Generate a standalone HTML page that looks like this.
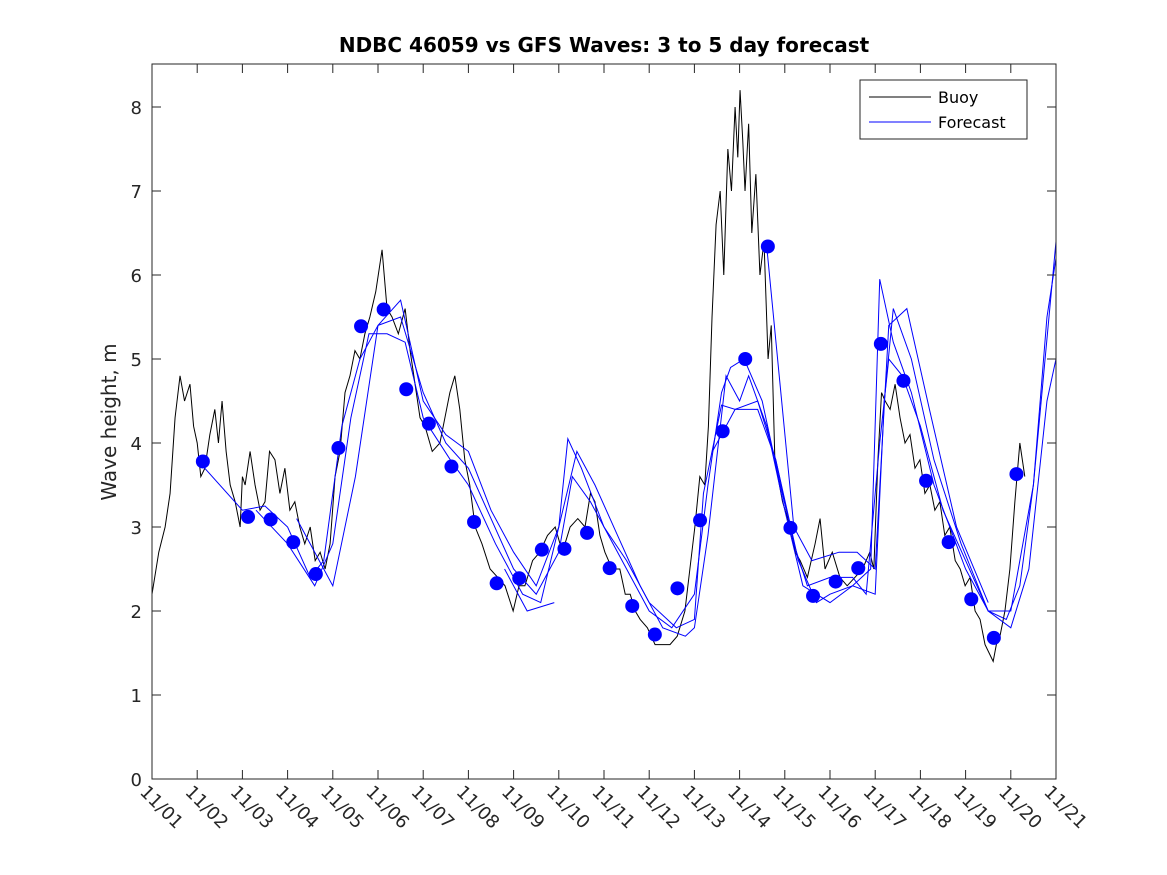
<!DOCTYPE html>
<html><head><meta charset="utf-8"><style>
body{margin:0;background:#fff}
svg{display:block;font-family:"DejaVu Sans","Liberation Sans",sans-serif}
</style></head><body>
<svg id="chart" width="1167" height="875" viewBox="0 0 1167 875" xmlns="http://www.w3.org/2000/svg">
<rect width="1167" height="875" fill="#fff"/>
<text x="604" y="52" text-anchor="middle" font-size="20" font-weight="bold" fill="#000">NDBC 46059 vs GFS Waves: 3 to 5 day forecast</text>
<text transform="translate(116,422) rotate(-90)" text-anchor="middle" font-size="20" fill="#262626">Wave height, m</text>
<g id="plot"></g>
<rect x="152" y="64" width="904" height="715" fill="none" stroke="#262626" stroke-width="1"/>
<g id="ticks"></g>
<g>
<rect x="860" y="80" width="167" height="59" fill="#fff" stroke="#262626"/>
<line x1="869" y1="97" x2="931" y2="97" stroke="#000"/>
<text x="938" y="103" font-size="16" fill="#000">Buoy</text>
<line x1="869" y1="122" x2="931" y2="122" stroke="#00f"/>
<text x="938" y="128" font-size="16" fill="#000">Forecast</text>
</g>
</svg>
<script>
const xTickLabels=["11/01","11/02","11/03","11/04","11/05","11/06","11/07","11/08","11/09","11/10","11/11","11/12","11/13","11/14","11/15","11/16","11/17","11/18","11/19","11/20","11/21"];
const yTicks=[0,1,2,3,4,5,6,7,8];
const buoyT=[0,0.15,0.29,0.4,0.51,0.62,0.72,0.84,0.92,1.0,1.08,1.17,1.28,1.39,1.47,1.55,1.64,1.73,1.84,1.95,2.0,2.06,2.17,2.28,2.39,2.5,2.6,2.72,2.83,2.94,3.05,3.16,3.27,3.38,3.5,3.61,3.72,3.83,3.94,4.05,4.16,4.27,4.38,4.49,4.6,4.71,4.82,4.95,5.09,5.2,5.31,5.45,5.6,5.71,5.82,5.93,6.04,6.2,6.37,6.48,6.59,6.7,6.81,6.92,7.03,7.15,7.3,7.48,7.65,7.81,7.99,8.12,8.25,8.42,8.58,8.75,8.92,9.08,9.25,9.42,9.58,9.7,9.8,9.91,10.02,10.18,10.35,10.47,10.58,10.69,10.8,10.96,11.13,11.3,11.46,11.62,11.79,11.9,12.01,12.12,12.23,12.31,12.39,12.48,12.57,12.65,12.74,12.82,12.9,12.96,13.01,13.07,13.12,13.2,13.27,13.36,13.45,13.54,13.63,13.7,13.78,13.95,14.12,14.23,14.34,14.5,14.67,14.78,14.89,15.05,15.22,15.38,15.55,15.72,15.88,15.97,16.06,16.14,16.22,16.33,16.44,16.55,16.66,16.77,16.88,16.99,17.1,17.21,17.32,17.43,17.54,17.65,17.77,17.88,17.99,18.1,18.21,18.32,18.43,18.52,18.61,18.68,18.76,18.87,18.98,19.09,19.2,19.31];
const buoyV=[2.2,2.7,3.0,3.4,4.3,4.8,4.5,4.7,4.2,4.0,3.6,3.7,4.1,4.4,4.0,4.5,3.9,3.5,3.3,3.0,3.6,3.5,3.9,3.5,3.2,3.3,3.9,3.8,3.4,3.7,3.2,3.3,3.0,2.8,3.0,2.6,2.7,2.5,2.8,3.6,3.9,4.6,4.8,5.1,5.0,5.3,5.5,5.8,6.3,5.6,5.5,5.3,5.6,5.1,4.7,4.3,4.2,3.9,4.0,4.3,4.6,4.8,4.4,3.8,3.5,3.0,2.8,2.5,2.4,2.3,2.0,2.3,2.3,2.6,2.7,2.9,3.0,2.7,3.0,3.1,3.0,3.4,3.3,2.9,2.7,2.5,2.5,2.2,2.2,2.0,1.9,1.8,1.6,1.6,1.6,1.7,2.0,2.5,3.0,3.6,3.5,4.2,5.5,6.6,7.0,6.0,7.5,7.0,8.0,7.4,8.2,7.6,7.0,7.8,6.5,7.2,6.0,6.4,5.0,5.4,3.8,3.3,3.0,2.7,2.6,2.4,2.8,3.1,2.5,2.7,2.4,2.3,2.4,2.5,2.7,2.5,3.8,4.6,4.5,4.4,4.7,4.3,4.0,4.1,3.7,3.8,3.4,3.5,3.2,3.3,2.9,3.0,2.6,2.5,2.3,2.4,2.0,1.9,1.6,1.5,1.4,1.6,1.7,2.0,2.5,3.3,4.0,3.6];
const dotT=[1.125,2.125,2.625,3.125,3.625,4.125,4.625,5.125,5.625,6.125,6.625,7.125,7.625,8.125,8.625,9.125,9.625,10.125,10.625,11.125,11.625,12.125,12.625,13.125,13.625,14.125,14.625,15.125,15.625,16.125,16.625,17.125,17.625,18.125,18.625,19.125];
const dotV=[3.78,3.12,3.09,2.82,2.44,3.94,5.39,5.59,4.64,4.23,3.72,3.06,2.33,2.39,2.73,2.74,2.93,2.51,2.06,1.72,2.27,3.08,4.14,5.0,6.34,2.99,2.18,2.35,2.51,5.18,4.74,3.55,2.82,2.14,1.68,3.63];
const fc1=[[1.0,3.8],[2,3.2],[2.5,3.25],[3,3.0],[3.5,2.4],[3.8,2.6],[4.2,4.2],[4.6,5.0],[5,5.4],[5.5,5.5],[6,4.6],[6.5,4.0],[7,3.7],[7.5,3.1],[8,2.5],[8.5,2.2],[9,2.7],[9.3,3.6],[9.7,3.3],[10,3.0],[10.5,2.5],[11,2.0],[11.5,1.8],[12,2.2],[12.3,3.5],[12.6,4.6],[12.8,4.9],[13.1,5.0],[13.5,4.5],[13.9,3.5],[14.3,2.6],[14.7,2.1],[15,2.2],[15.5,2.3],[16,2.2],[16.2,4.5],[16.4,5.6],[16.8,5.0],[17.3,3.8],[17.9,2.8],[18.5,2.0],[19,1.8],[19.4,2.5],[19.8,4.5],[20,5.0]];
const fc2=[[2.3,3.2],[3,2.8],[3.6,2.3],[4.0,2.8],[4.4,4.3],[4.8,5.3],[5.2,5.3],[5.6,5.2],[6,4.3],[6.6,3.8],[7,3.5],[7.6,2.8],[8.2,2.2],[8.6,2.1],[9,3.0],[9.2,4.05],[9.5,3.7],[10,3.0],[10.5,2.6],[11,2.1],[11.6,1.8],[12,1.9],[12.2,3.4],[12.6,4.45],[12.9,4.4],[13.4,4.5],[13.8,3.8],[14.2,2.8],[14.5,2.3],[15,2.4],[15.5,2.4],[15.8,2.2],[16.1,4.0],[16.3,5.0],[16.6,4.8],[17,4.2],[17.5,3.2],[18,2.6],[18.5,2.0],[18.9,1.9],[19.2,2.3],[19.5,3.5],[19.8,5.5],[20,6.2]];
const fc3=[[3.2,3.1],[4,2.3],[4.5,3.6],[5,5.4],[5.5,5.7],[6,4.5],[6.5,4.1],[7,3.9],[7.5,3.2],[8,2.7],[8.5,2.3],[9,3.0],[9.4,3.9],[9.8,3.5],[10.3,2.9],[10.8,2.3],[11.3,1.8],[11.8,1.7],[12,1.8],[12.3,2.9],[12.7,4.8],[13.0,4.5],[13.2,4.8],[13.6,4.2],[14.0,3.2],[14.4,2.3],[15,2.1],[15.5,2.3],[15.9,2.5],[16.1,5.95],[16.4,5.2],[16.8,4.6],[17.3,3.5],[18,2.5],[18.5,2.0],[19,2.0],[19.5,3.5],[20,6.4]];
const fc4=[[13.6,6.34],[14.2,3.0],[14.6,2.6],[15.2,2.7],[15.6,2.7],[16.0,2.5],[16.3,5.4],[16.7,5.6],[17.2,4.4],[17.8,3.0],[18.5,2.1]];
const fc5=[[12.4,3.9],[12.9,4.4],[13.4,4.4],[13.8,3.8],[14.3,2.6]];
const fc6=[[7.8,2.5],[8.3,2.0],[8.9,2.1]];
const X0=152,X1=1056,Y0=779,YS=84;
const xs=t=>X0+t*(X1-X0)/20, ys=v=>Y0-v*YS;
const NS="http://www.w3.org/2000/svg";
const plot=document.getElementById('plot'), tk=document.getElementById('ticks');
function mk(tag,attrs,parent){const e=document.createElementNS(NS,tag);for(const k in attrs)e.setAttribute(k,attrs[k]);parent.appendChild(e);return e;}
const bp=mk('polyline',{points:buoyT.map((t,i)=>xs(t)+','+ys(buoyV[i])).join(' '),fill:'none',stroke:'#000','stroke-width':1},plot);


[fc1,fc2,fc3,fc4,fc5,fc6].forEach((s,k)=>{
 const p=mk('polyline',{points:s.map(d=>xs(d[0])+','+ys(d[1])).join(' '),fill:'none',stroke:'#00f','stroke-width':1},plot);
 
 
});
dotT.forEach((t,i)=>{
 const c=mk('circle',{cx:xs(t),cy:ys(dotV[i]),r:7,fill:'#00f'},plot);
 
 
});
yTicks.forEach(v=>{
 mk('line',{x1:X0,x2:X0+9,y1:ys(v),y2:ys(v),stroke:'#262626'},tk);
 mk('line',{x1:X1,x2:X1-9,y1:ys(v),y2:ys(v),stroke:'#262626'},tk);
 const t=mk('text',{x:X0-10,y:ys(v)+7,'text-anchor':'end','font-size':18,fill:'#262626'},tk);
 t.textContent=v;
 
 
});
xTickLabels.forEach((l,i)=>{
 const x=xs(i);
 mk('line',{x1:x,x2:x,y1:Y0,y2:Y0-9,stroke:'#262626'},tk);
 mk('line',{x1:x,x2:x,y1:64,y2:73,stroke:'#262626'},tk);
 const t=mk('text',{transform:`translate(${x-13},${Y0+14}) rotate(45)`,'font-size':18,fill:'#262626'},tk);
 t.textContent=l;
 
 
});
</script>
</body></html>
